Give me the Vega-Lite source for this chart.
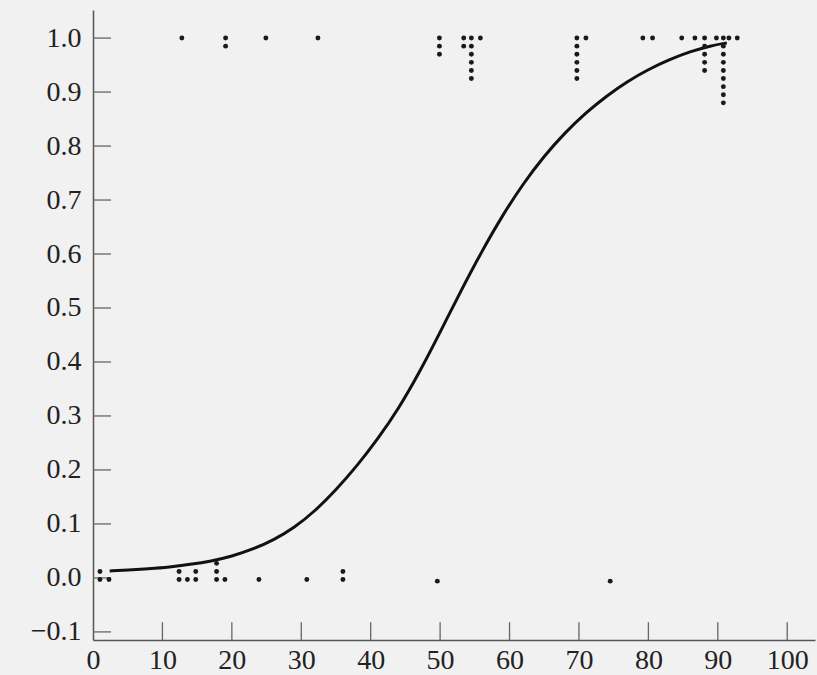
{
  "$schema": "https://vega.github.io/schema/vega-lite/v6.json",
  "width": 722,
  "height": 630,
  "autosize": {"type": "none"},
  "padding": {"left": 93, "top": 10, "right": 2, "bottom": 35},
  "background": "#f1f1f1",
  "config": {
    "view": {"stroke": null},
    "axis": {
      "labelFont": "Liberation Serif",
      "labelFontSize": 28,
      "labelColor": "#222222",
      "domainColor": "#555555",
      "domainWidth": 1.5,
      "ticks": false,
      "grid": false,
      "title": null
    }
  },
  "datasets": {
    "points": [
      {"x": 12.8, "y": 1.0},
      {"x": 19.1, "y": 1.0}, {"x": 19.1, "y": 0.985},
      {"x": 24.9, "y": 1.0},
      {"x": 32.4, "y": 1.0},
      {"x": 49.9, "y": 1.0}, {"x": 49.9, "y": 0.985}, {"x": 49.9, "y": 0.97},
      {"x": 53.4, "y": 1.0}, {"x": 53.4, "y": 0.985},
      {"x": 54.5, "y": 1.0}, {"x": 54.5, "y": 0.985}, {"x": 54.5, "y": 0.97}, {"x": 54.5, "y": 0.955}, {"x": 54.5, "y": 0.94}, {"x": 54.5, "y": 0.925},
      {"x": 55.8, "y": 1.0},
      {"x": 69.7, "y": 1.0}, {"x": 69.7, "y": 0.985}, {"x": 69.7, "y": 0.97}, {"x": 69.7, "y": 0.955}, {"x": 69.7, "y": 0.94}, {"x": 69.7, "y": 0.925},
      {"x": 71.0, "y": 1.0},
      {"x": 79.2, "y": 1.0},
      {"x": 80.6, "y": 1.0},
      {"x": 84.8, "y": 1.0},
      {"x": 86.7, "y": 1.0},
      {"x": 88.1, "y": 1.0}, {"x": 88.1, "y": 0.985}, {"x": 88.1, "y": 0.97}, {"x": 88.1, "y": 0.955}, {"x": 88.1, "y": 0.94},
      {"x": 89.8, "y": 1.0},
      {"x": 90.8, "y": 1.0}, {"x": 90.8, "y": 0.985}, {"x": 90.8, "y": 0.97}, {"x": 90.8, "y": 0.955}, {"x": 90.8, "y": 0.94}, {"x": 90.8, "y": 0.925}, {"x": 90.8, "y": 0.91}, {"x": 90.8, "y": 0.895}, {"x": 90.8, "y": 0.88},
      {"x": 91.6, "y": 1.0},
      {"x": 92.8, "y": 1.0},
      {"x": 1.0, "y": -0.003}, {"x": 1.0, "y": 0.012},
      {"x": 2.3, "y": -0.003},
      {"x": 12.4, "y": -0.003}, {"x": 12.4, "y": 0.012},
      {"x": 13.6, "y": -0.003},
      {"x": 14.8, "y": -0.003}, {"x": 14.8, "y": 0.012},
      {"x": 17.8, "y": -0.003}, {"x": 17.8, "y": 0.012}, {"x": 17.8, "y": 0.027},
      {"x": 19.0, "y": -0.003},
      {"x": 23.9, "y": -0.003},
      {"x": 30.8, "y": -0.003},
      {"x": 36.0, "y": -0.003}, {"x": 36.0, "y": 0.012},
      {"x": 49.6, "y": -0.006},
      {"x": 74.5, "y": -0.006}
    ],
    "curve": [
      {"x": 2.4, "y": 0.013},
      {"x": 5, "y": 0.0145},
      {"x": 8, "y": 0.017},
      {"x": 11, "y": 0.02},
      {"x": 14, "y": 0.025},
      {"x": 17, "y": 0.031},
      {"x": 20, "y": 0.04},
      {"x": 23, "y": 0.053},
      {"x": 26, "y": 0.07},
      {"x": 29, "y": 0.093},
      {"x": 32, "y": 0.124},
      {"x": 35, "y": 0.163},
      {"x": 38, "y": 0.207},
      {"x": 41, "y": 0.257},
      {"x": 44, "y": 0.313},
      {"x": 47, "y": 0.38},
      {"x": 50, "y": 0.455},
      {"x": 53, "y": 0.532},
      {"x": 56, "y": 0.605},
      {"x": 59, "y": 0.672},
      {"x": 62, "y": 0.731},
      {"x": 65, "y": 0.782},
      {"x": 68, "y": 0.825},
      {"x": 71, "y": 0.862},
      {"x": 74, "y": 0.893},
      {"x": 77, "y": 0.92},
      {"x": 80, "y": 0.942},
      {"x": 83, "y": 0.96},
      {"x": 86, "y": 0.975},
      {"x": 89, "y": 0.986},
      {"x": 91.3, "y": 0.991}
    ],
    "xticks": [{"v": 10}, {"v": 20}, {"v": 30}, {"v": 40}, {"v": 50}, {"v": 60}, {"v": 70}, {"v": 80}, {"v": 90}, {"v": 100}],
    "yticks": [{"v": -0.1}, {"v": 0}, {"v": 0.1}, {"v": 0.2}, {"v": 0.3}, {"v": 0.4}, {"v": 0.5}, {"v": 0.6}, {"v": 0.7}, {"v": 0.8}, {"v": 0.9}, {"v": 1.0}]
  },
  "layer": [
    {
      "data": {"name": "curve"},
      "mark": {"type": "line", "color": "#111111", "strokeWidth": 3, "interpolate": "basis"},
      "encoding": {
        "x": {"field": "x", "type": "quantitative",
              "scale": {"domain": [0, 104], "nice": false, "zero": false},
              "axis": {"values": [0, 10, 20, 30, 40, 50, 60, 70, 80, 90, 100], "labelPadding": 6, "labelFlush": false, "labelAlign": "center", "labelBaseline": "top"}},
        "y": {"field": "y", "type": "quantitative",
              "scale": {"domain": [-0.115, 1.052], "nice": false, "zero": false},
              "axis": {"values": [-0.1, 0, 0.1, 0.2, 0.3, 0.4, 0.5, 0.6, 0.7, 0.8, 0.9, 1.0], "format": ".1f", "labelPadding": 12, "labelFlush": false, "labelBaseline": "middle"}}
      }
    },
    {
      "data": {"name": "xticks"},
      "mark": {"type": "rule", "color": "#666666", "strokeWidth": 1.3},
      "encoding": {
        "x": {"field": "v", "type": "quantitative"},
        "y": {"datum": -0.115},
        "y2": {"datum": -0.082}
      }
    },
    {
      "data": {"name": "yticks"},
      "mark": {"type": "rule", "color": "#666666", "strokeWidth": 1.3},
      "encoding": {
        "y": {"field": "v", "type": "quantitative"},
        "x": {"datum": 0},
        "x2": {"datum": 2.6}
      }
    },
    {
      "data": {"name": "points"},
      "mark": {"type": "circle", "size": 24, "color": "#1a1a1a", "opacity": 1},
      "encoding": {
        "x": {"field": "x", "type": "quantitative"},
        "y": {"field": "y", "type": "quantitative"}
      }
    }
  ]
}
